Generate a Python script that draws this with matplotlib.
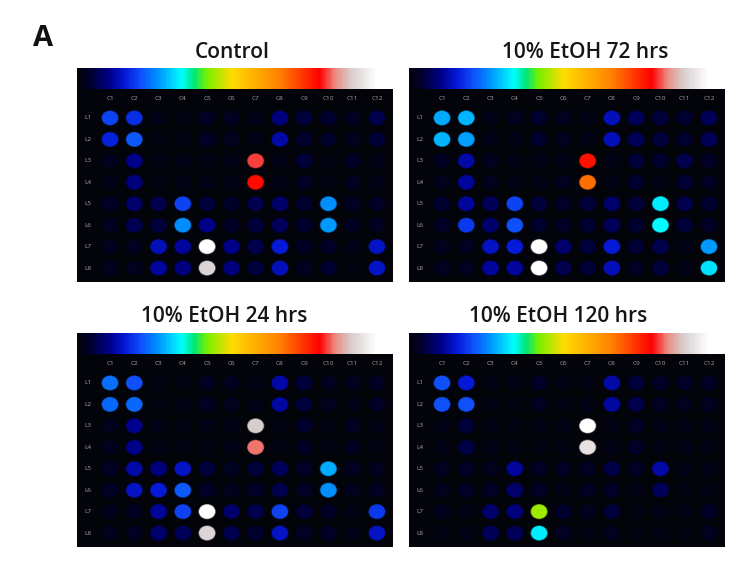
#!/usr/bin/env python3
# Four 8x12 sensor-array heat maps with rainbow colour strips

import numpy as np
import matplotlib
matplotlib.use("Agg")
import matplotlib.pyplot as plt
from matplotlib.colors import LinearSegmentedColormap
from matplotlib.patches import Ellipse

plt.rcParams["font.family"] = ["Open Sans", "DejaVu Sans"]

col_labels = ["C1", "C2", "C3", "C4", "C5", "C6", "C7", "C8", "C9", "C10", "C11", "C12"]
row_labels = ["L1", "L2", "L3", "L4", "L5", "L6", "L7", "L8"]

# values are positions on the colour strip, 0 = black and 1 = white
control = [
    [.19, .17, .015, .01, .03, .025, .015, .09, .05, .04, .025, .06],
    [.16, .21, .01, .01, .035, .02, .015, .12, .04, .035, .02, .045],
    [.02, .10, .015, .015, .015, .012, .79, .015, .05, .01, .03, .015],
    [.012, .09, .01, .012, .012, .012, .76, .012, .035, .01, .025, .012],
    [.035, .08, .06, .19, .05, .035, .06, .08, .04, .25, .03, .03],
    [.025, .065, .05, .25, .10, .03, .05, .07, .04, .26, .025, .025],
    [.02, .02, .13, .11, 1, .10, .06, .15, .03, .035, .012, .14],
    [.02, .02, .11, .09, .88, .09, .05, .13, .025, .04, .01, .14],
]
etoh_72 = [
    [.27, .28, .015, .02, .04, .02, .015, .13, .07, .05, .04, .07],
    [.28, .265, .015, .015, .04, .02, .015, .13, .07, .05, .04, .07],
    [.025, .12, .02, .012, .012, .015, .75, .015, .05, .04, .06, .03],
    [.02, .11, .02, .012, .012, .02, .66, .012, .04, .015, .045, .03],
    [.04, .11, .07, .19, .05, .035, .05, .08, .05, .32, .06, .04],
    [.035, .18, .08, .20, .04, .03, .04, .07, .04, .33, .05, .035],
    [.02, .025, .14, .15, 1, .08, .05, .15, .045, .06, .015, .26],
    [.02, .025, .11, .11, 1, .06, .045, .13, .03, .05, .015, .31],
]
etoh_24 = [
    [.23, .20, .01, .01, .03, .02, .015, .12, .05, .02, .02, .03],
    [.22, .22, .01, .015, .03, .02, .015, .115, .05, .02, .015, .03],
    [.02, .105, .012, .01, .012, .015, .87, .01, .04, .01, .025, .012],
    [.02, .10, .012, .01, .01, .012, .81, .01, .03, .01, .025, .01],
    [.03, .12, .09, .14, .05, .025, .05, .07, .035, .27, .025, .02],
    [.035, .14, .15, .21, .035, .02, .035, .06, .03, .25, .02, .025],
    [.02, .025, .11, .19, 1, .08, .06, .19, .05, .03, .012, .18],
    [.02, .025, .08, .07, .88, .06, .04, .14, .03, .03, .012, .14],
]
etoh_120 = [
    [.20, .15, .01, .015, .035, .015, .015, .12, .05, .035, .035, .03],
    [.20, .20, .01, .01, .025, .01, .015, .115, .06, .025, .02, .025],
    [.012, .05, .01, .008, .008, .012, 1, .015, .035, .012, .012, .012],
    [.015, .055, .015, .008, .008, .01, .90, .015, .035, .008, .015, .008],
    [.025, .03, .02, .11, .03, .03, .025, .055, .03, .12, .012, .012],
    [.02, .03, .03, .08, .03, .015, .025, .035, .012, .07, .008, .008],
    [.02, .015, .08, .09, .43, .04, .02, .05, .01, .012, .012, .035],
    [.01, .012, .07, .07, .32, .025, .01, .02, .008, .01, .008, .025],
]

titles = ["Control", "10% EtOH 72 hrs", "10% EtOH 24 hrs", "10% EtOH 120 hrs"]
panels = [control, etoh_72, etoh_24, etoh_120]
# left, colour strip top, title centre x, title centre y (pixels)
places = [(77, 68, 232, 52), (409, 68, 585, 52), (77, 333, 224, 316), (409, 333, 558, 316)]

stops = [(0, (3, 3, 12)), (.04, (0, 0, 48)), (.10, (0, 0, 140)), (.15, (5, 25, 215)),
         (.20, (15, 80, 250)), (.25, (0, 140, 255)), (.33, (0, 255, 255)), (.37, (0, 230, 120)),
         (.41, (120, 240, 0)), (.49, (255, 220, 0)), (.64, (255, 130, 0)), (.77, (255, 0, 0)),
         (.82, (235, 140, 130)), (.87, (215, 205, 205)), (.95, (255, 255, 255)), (1, (255, 255, 255))]
cmap = LinearSegmentedColormap.from_list(
    "strip", [(p, tuple(c / 255 for c in rgb)) for p, rgb in stops])

W, H = 750, 565
PANEL_W, STRIP_H, BODY_H = 316, 21, 193


def px_axes(fig, left, top, width, height):
    return fig.add_axes([left / W, 1 - (top + height) / H, width / W, height / H])


fig = plt.figure(figsize=(W / 100, H / 100), dpi=100, facecolor="white")
fig.text(33 / W, 1 - 38 / H, "A", fontsize=21, fontweight="bold", color="#111111", va="center")

for title, values, (left, top, tx, ty) in zip(titles, panels, places):
    fig.text(tx / W, 1 - ty / H, title, fontsize=15, fontweight="semibold",
             color="#151515", ha="center", va="center")

    strip = px_axes(fig, left, top, PANEL_W, STRIP_H)
    strip.imshow(np.linspace(0, 1, 316)[None, :], cmap=cmap, vmin=0, vmax=1, aspect="auto")
    strip.axis("off")

    ax = px_axes(fig, left, top + STRIP_H, PANEL_W, BODY_H)
    ax.set_facecolor("#03030a")
    ax.set_xlim(-0.36, 12.66)
    ax.set_ylim(8.65, -0.35)
    ax.set_xticks([])
    ax.set_yticks([])
    for s in ax.spines.values():
        s.set_visible(False)

    grid = np.array(values)
    for r in range(8):
        for c in range(12):
            color = cmap(grid[r, c])
            # soft rim then the dot, the source image is a little blurred
            ax.add_patch(Ellipse((c + 1, r + 1), 0.72, 0.72, color=color, alpha=0.45, lw=0))
            ax.add_patch(Ellipse((c + 1, r + 1), 0.66, 0.66, color=color, lw=0))

    for c, name in enumerate(col_labels):
        ax.text(c + 1, 0.11, name, color="#a8a8a8", fontsize=4.6, ha="center", va="center")
    for r, name in enumerate(row_labels):
        ax.text(0.08, r + 1, name, color="#a8a8a8", fontsize=4.6, ha="center", va="center")

fig.savefig("out.png", dpi=100)
